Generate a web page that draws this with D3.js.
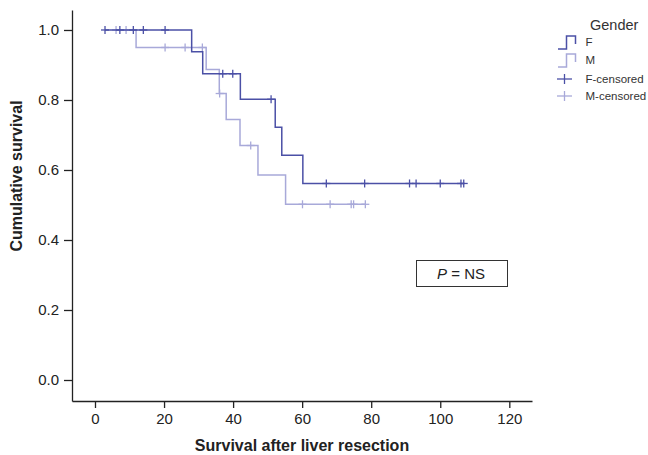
<!DOCTYPE html>
<html>
<head>
<meta charset="utf-8">
<script src="https://cdn.jsdelivr.net/npm/d3@7"></script>
<style>
  body { margin: 0; background: #fff; }
  svg { font-family: "Liberation Sans", Arial, sans-serif; }
  .axis path, .axis line { stroke: #222; stroke-width: 1.3; }
  .axis text { fill: #222; font-size: 15px; }
</style>
</head>
<body>
<div id="chart"></div>
<script>
// survival data (months, cumulative survival)
var fStart = 2.9;
var fEventTimes = [28.0, 31.2, 42.1, 52.2, 54.1, 60.2];
var fSurvival = [0.9375, 0.875, 0.802, 0.722, 0.642, 0.5615];
var fCensorTimes = [2.9, 7.2, 11.1, 14.0, 20.3, 37.0, 39.9, 51.0, 67.0, 78.1, 91.1, 93.0, 100.0, 106.0, 106.8];

var mStart = 6.1;
var mEventTimes = [11.9, 32.2, 36.0, 38.0, 42.0, 47.2, 55.2];
var mSurvival = [0.95, 0.887, 0.8185, 0.744, 0.67, 0.586, 0.502];
var mCensorTimes = [6.1, 9.0, 20.3, 26.1, 31.1, 36.1, 45.1, 60.1, 68.1, 74.2, 74.9, 78.3];

var xTicks = [0, 20, 40, 60, 80, 100, 120];
var yTicks = [0.0, 0.2, 0.4, 0.6, 0.8, 1.0];
var legendLabels = ["F", "M", "F-censored", "M-censored"];

var svgWidth = 648;
var svgHeight = 455;
var fColor = "#4b50a6";
var mColor = "#a8a9d9";

var svg = d3.select("#chart")
  .append("svg")
  .attr("width", svgWidth)
  .attr("height", svgHeight);

// scales: axis lines run a bit past the tick range
var x = d3.scaleLinear().domain([-6.66, 126.57]).range([72, 532]);
var y = d3.scaleLinear().domain([-0.06, 1.0571]).range([401, 10]);

svg.append("g")
  .classed("axis", true)
  .attr("transform", "translate(0, 401)")
  .call(d3.axisBottom(x).tickValues(xTicks).tickSize(7).tickSizeOuter(0).tickPadding(5));

svg.append("g")
  .classed("axis", true)
  .attr("transform", "translate(72, 0)")
  .call(d3.axisLeft(y).tickValues(yTicks).tickFormat(d3.format(".1f"))
    .tickSize(8).tickSizeOuter(0).tickPadding(5));

// step value at time t
function survivalAt(t, times, surv) {
  var s = 1;
  times.forEach((tt, i) => { if (t >= tt) s = surv[i]; });
  return s;
}

function curvePoints(start, times, surv, censors) {
  var pts = [[start, 1]];
  times.forEach((t, i) => pts.push([t, surv[i]]));
  var last = d3.max(censors);
  pts.push([last, survivalAt(last, times, surv)]);
  return pts;
}

var stepLine = d3.line()
  .x(d => x(d[0]))
  .y(d => y(d[1]))
  .curve(d3.curveStepAfter);

function drawGroup(start, times, surv, censors, color) {
  svg.append("path")
    .attr("d", stepLine(curvePoints(start, times, surv, censors)))
    .attr("fill", "none")
    .attr("stroke", color)
    .attr("stroke-width", 1.5);

  var marks = svg.append("g").selectAll("g")
    .data(censors)
    .enter()
    .append("g")
    .attr("transform", d => `translate(${x(d)}, ${y(survivalAt(d, times, surv))})`);
  marks.append("line")
    .attr("x1", -4).attr("x2", 4)
    .attr("stroke", color).attr("stroke-width", 1.3);
  marks.append("line")
    .attr("y1", -4).attr("y2", 4)
    .attr("stroke", color).attr("stroke-width", 1.3);
}

drawGroup(mStart, mEventTimes, mSurvival, mCensorTimes, mColor);
drawGroup(fStart, fEventTimes, fSurvival, fCensorTimes, fColor);

// axis titles
svg.append("text")
  .attr("x", 302)
  .attr("y", 451)
  .attr("text-anchor", "middle")
  .attr("font-size", 16)
  .attr("font-weight", "bold")
  .attr("fill", "#222")
  .text("Survival after liver resection");

svg.append("text")
  .attr("transform", "translate(21.5, 176) rotate(-90)")
  .attr("text-anchor", "middle")
  .attr("font-size", 16)
  .attr("font-weight", "bold")
  .attr("fill", "#222")
  .text("Cumulative survival");

// P = NS box
svg.append("rect")
  .attr("x", 416.5).attr("y", 260.5)
  .attr("width", 91).attr("height", 26)
  .attr("fill", "none")
  .attr("stroke", "#333")
  .attr("stroke-width", 1);

var pText = svg.append("text")
  .attr("x", 461)
  .attr("y", 279)
  .attr("text-anchor", "middle")
  .attr("font-size", 15)
  .attr("fill", "#222");
pText.append("tspan").attr("font-style", "italic").text("P");
pText.append("tspan").text(" = NS");

// legend
var legend = svg.append("g");
legend.append("text")
  .attr("x", 590).attr("y", 30)
  .attr("font-size", 14.5)
  .attr("fill", "#333")
  .text("Gender");

var legendColors = [fColor, mColor, fColor, mColor];
legendLabels.forEach((lab, i) => {
  var cy = [42, 60, 79, 96][i];
  var g = legend.append("g").attr("transform", `translate(0, ${cy})`);
  if (i < 2) {
    g.append("path")
      .attr("d", "M558,7 H566.5 V-6 H575.5 V2")
      .attr("fill", "none")
      .attr("stroke", legendColors[i])
      .attr("stroke-width", 1.5);
  } else {
    g.append("line").attr("x1", 557).attr("x2", 572)
      .attr("stroke", legendColors[i]).attr("stroke-width", 1.3);
    g.append("line").attr("x1", 564.5).attr("x2", 564.5).attr("y1", -5).attr("y2", 5)
      .attr("stroke", legendColors[i]).attr("stroke-width", 1.3);
  }
  g.append("text")
    .attr("x", 585.5).attr("y", 4)
    .attr("font-size", 11.5)
    .attr("fill", "#333")
    .text(lab);
});
</script>
</body>
</html>
